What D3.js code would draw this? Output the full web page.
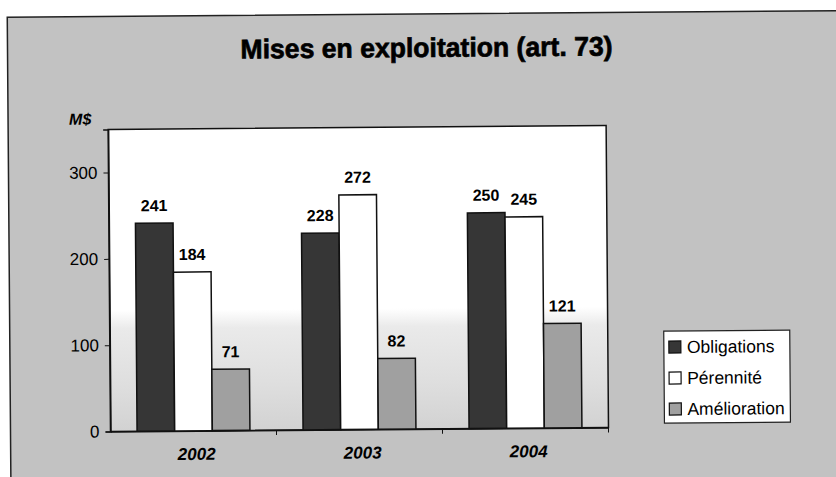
<!DOCTYPE html>
<html>
<head>
<meta charset="utf-8">
<title>Mises en exploitation (art. 73)</title>
<script src="https://cdn.jsdelivr.net/npm/d3@7/dist/d3.min.js"></script>
<style>
  body { margin: 0; background: #fff; }
  svg text { font-family: "Liberation Sans", Arial, sans-serif; fill: #000; }
</style>
</head>
<body>
<svg id="chart" width="836" height="477"></svg>
<script>
// data
var years = ['2002', '2003', '2004'];
var series = ['Obligations', 'Pérennité', 'Amélioration'];
var obligations = [241, 228, 250];
var perennite = [184, 272, 245];
var amelioration = [71, 82, 121];
var yTicks = [0, 100, 200, 300];

var fills = ['#363636', '#ffffff', '#a0a0a0'];
var values = [obligations, perennite, amelioration];

var svg = d3.select('#chart'),
  width = +svg.attr('width'),
  height = +svg.attr('height');

var defs = svg.append('defs');
var grad = defs.append('linearGradient')
  .attr('id', 'plotbg').attr('x1', 0).attr('y1', 0).attr('x2', 0).attr('y2', 1);
grad.append('stop').attr('offset', '0').attr('stop-color', '#ffffff');
grad.append('stop').attr('offset', '0.6').attr('stop-color', '#ffffff');
grad.append('stop').attr('offset', '0.66').attr('stop-color', '#eaeaea');
grad.append('stop').attr('offset', '0.85').attr('stop-color', '#dedede');
grad.append('stop').attr('offset', '1').attr('stop-color', '#d2d2d2');

// the scan is slightly tilted
var root = svg.append('g')
  .attr('transform', 'rotate(-0.45,' + width / 2 + ',' + height / 2 + ')');

// outer frame
root.append('rect')
  .attr('x', 9).attr('y', 14)
  .attr('width', 840).attr('height', 480)
  .attr('fill', '#c2c2c2')
  .attr('stroke', '#222').attr('stroke-width', 1.5);

// title (heavy, condensed in the original)
root.append('text')
  .attr('x', 428).attr('y', 57)
  .attr('text-anchor', 'middle')
  .attr('font-size', 27).attr('font-weight', 'bold')
  .attr('stroke', '#000').attr('stroke-width', 0.7)
  .attr('textLength', 372).attr('lengthAdjust', 'spacingAndGlyphs')
  .text('Mises en exploitation (art. 73)');

var margin = { left: 109, right: 607, top: 127, bottom: 429 };

var x = d3.scaleBand()
  .domain(years)
  .range([margin.left, margin.right])
  .paddingInner(0.32)
  .paddingOuter(0.16);

var xs = d3.scaleBand()
  .domain(series)
  .range([0, x.bandwidth()]);

var y = d3.scaleLinear()
  .domain([0, 350])
  .range([margin.bottom, margin.top]);

// plot area
root.append('rect')
  .attr('x', margin.left).attr('y', margin.top)
  .attr('width', margin.right - margin.left)
  .attr('height', margin.bottom - margin.top)
  .attr('fill', 'url(#plotbg)')
  .attr('stroke', '#111').attr('stroke-width', 1.5);

// y axis
var yAxis = root.append('g')
  .attr('transform', 'translate(' + margin.left + ',0)')
  .call(d3.axisLeft(y).tickValues(yTicks).tickSize(5).tickPadding(6));
yAxis.select('.domain').attr('stroke', '#111').attr('stroke-width', 1.5);
yAxis.selectAll('.tick line').attr('stroke', '#111');
yAxis.selectAll('.tick text')
  .attr('font-size', 17)
  .attr('font-family', '"Liberation Sans", Arial, sans-serif');

// x axis: ticks at category boundaries
var xAxis = root.append('g')
  .attr('transform', 'translate(0,' + margin.bottom + ')')
  .call(d3.axisBottom(x).tickSize(0).tickPadding(17));
xAxis.select('.domain').attr('stroke', '#111').attr('stroke-width', 1.5);
xAxis.selectAll('.tick text')
  .attr('font-size', 17)
  .attr('font-weight', 'bold')
  .attr('font-style', 'italic')
  .attr('dx', 3)
  .attr('font-family', '"Liberation Sans", Arial, sans-serif');

var step = x.step();
xAxis.selectAll('.bound')
  .data(years.slice(1).concat(['end']))
  .enter().append('line')
  .attr('class', 'bound')
  .attr('x1', (d, i) => margin.left + step * (i + 1))
  .attr('x2', (d, i) => margin.left + step * (i + 1))
  .attr('y1', 0).attr('y2', 5)
  .attr('stroke', '#111');

// unit label
root.append('text')
  .attr('x', 70).attr('y', 122)
  .attr('font-size', 16)
  .attr('font-weight', 'bold')
  .attr('font-style', 'italic')
  .text('M$');

// bars
var groups = root.selectAll('.year')
  .data(years)
  .enter().append('g')
  .attr('class', 'year')
  .attr('transform', d => 'translate(' + x(d) + ',0)');

var cells = groups.selectAll('.bar')
  .data((d, i) => series.map((s, j) => ({ s: s, j: j, v: values[j][i] })))
  .enter();

cells.append('rect')
  .attr('class', 'bar')
  .attr('x', d => xs(d.s))
  .attr('y', d => y(d.v))
  .attr('width', xs.bandwidth())
  .attr('height', d => y(0) - y(d.v))
  .attr('fill', d => fills[d.j])
  .attr('stroke', '#111')
  .attr('stroke-width', 1.5);

cells.append('text')
  .attr('x', d => xs(d.s) + xs.bandwidth() / 2)
  .attr('y', d => y(d.v) - 12)
  .attr('text-anchor', 'middle')
  .attr('font-size', 16)
  .attr('font-weight', 'bold')
  .text(d => d.v);

// legend
var legend = root.append('g').attr('transform', 'translate(663,333)');
legend.append('rect')
  .attr('width', 126).attr('height', 92)
  .attr('fill', '#fff')
  .attr('stroke', '#222').attr('stroke-width', 1.2);

var item = legend.selectAll('.item')
  .data(series)
  .enter().append('g')
  .attr('class', 'item')
  .attr('transform', (d, i) => 'translate(5,' + (10 + i * 31) + ')');

item.append('rect')
  .attr('width', 12).attr('height', 12)
  .attr('fill', (d, i) => fills[i])
  .attr('stroke', '#111').attr('stroke-width', 1.2);

item.append('text')
  .attr('x', 18).attr('y', 12)
  .attr('font-size', 17.5)
  .text(d => d);
</script>
</body>
</html>
